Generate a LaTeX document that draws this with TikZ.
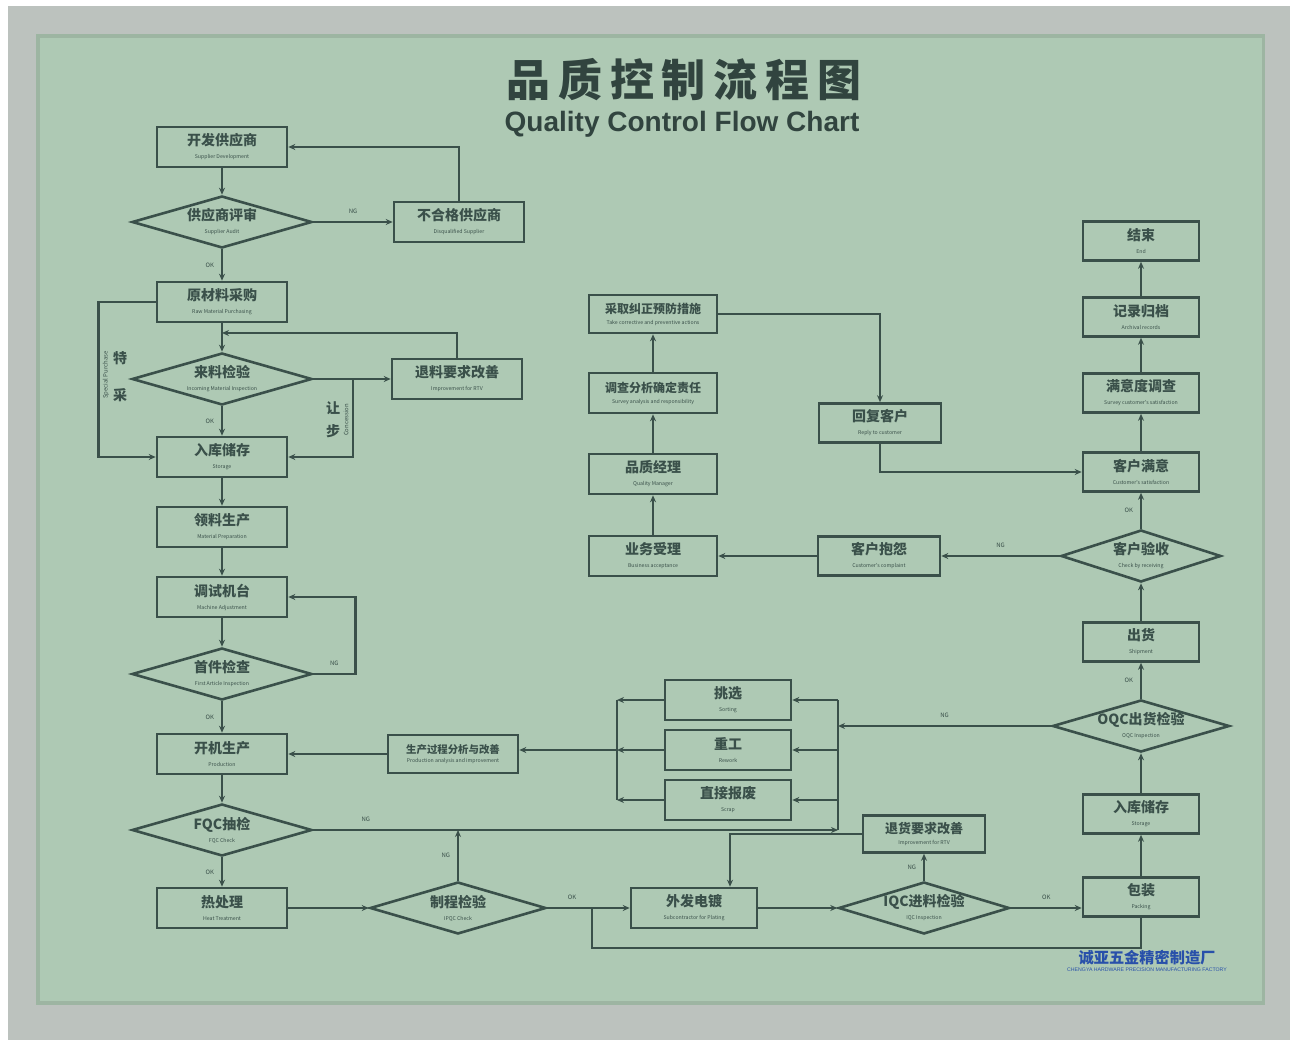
\documentclass[tikz,border=0pt]{standalone}
\usepackage{fontspec}
\setsansfont{Liberation Sans}
\newfontfamily\cjk{Noto Sans CJK SC}
\newfontfamily\cjktitle[LetterSpace=18]{Noto Sans CJK SC}
\usetikzlibrary{arrows.meta,shapes.geometric,calc}

\definecolor{board}{RGB}{174,201,180}
\definecolor{ink}{RGB}{58,80,74}
\definecolor{framec}{RGB}{188,194,190}
\definecolor{logoc}{RGB}{40,80,170}
\newcommand\en[1]{\\[-1.5pt]{\mdseries\fontsize{2.6}{3}\selectfont #1}}

\begin{document}
\begin{tikzpicture}[
  x=0.5pt, y=-0.5pt,
  font=\cjk\bfseries\fontsize{7}{8}\selectfont,
  >={Stealth[length=3.5pt,width=3pt]},
  block/.style={rectangle, draw=ink, line width=1.3pt, text=ink, fill=board,
                align=center, minimum width=65pt, minimum height=20pt, inner sep=1pt},
  nblock/.style={block, minimum width=58pt, minimum height=19.5pt},
  dec/.style={diamond, draw=ink, line width=1.3pt, text=ink, fill=board,
              align=center, aspect=3.4, minimum width=90pt, minimum height=26pt, inner sep=0pt},
  ndec/.style={dec, minimum width=80pt},
  lbl/.style={font=\cjk\fontsize{3}{3}\selectfont, text=ink},
  ar/.style={->, line width=1.3pt, draw=ink},
  ln/.style={line width=1.3pt, draw=ink},
]
\useasboundingbox (0,0) rectangle (1290,1042);

% ---------- board and frame ----------
\fill[white] (0,0) rectangle (1290,1042);
\fill[framec] (8,6) rectangle (1290,1040);
\fill[board!90!black] (36,34) rectangle (1265,1005);
\fill[board] (40,38) rectangle (1262,1001);

% ---------- title ----------
\node[text=ink!85!black, font=\cjktitle\bfseries\fontsize{22}{22}\selectfont] (title) at (684,80) {品质控制流程图};
\node[text=ink!85!black, font=\sffamily\bfseries\fontsize{14}{15}\selectfont] (subtitle) at (682,124) {Quality Control Flow Chart};

% ---------- left column: supplier and production ----------
\node[block] (dev) at (222,147) {开发供应商\en{Supplier Development}};
\node[dec] (audit) at (222,222) {供应商评审\en{Supplier Audit}};
\node[block] (disq) at (459,222) {不合格供应商\en{Disqualified Supplier}};
\node[block] (purch) at (222,302) {原材料采购\en{Raw Material Purchasing}};
\node[dec] (iqc) at (222,379) {来料检验\en{Incoming Material Inspection}};
\node[block] (impr) at (457,379) {退料要求改善\en{Improvement for RTV}};
\node[block] (stor) at (222,457) {入库储存\en{Storage}};
\node[block] (prep) at (222,527) {领料生产\en{Material Preparation}};
\node[block] (adj) at (222,597) {调试机台\en{Machine Adjustment}};
\node[dec] (fai) at (222,674) {首件检查\en{First Article Inspection}};
\node[block] (prod) at (222,754) {开机生产\en{Production}};
\node[block, minimum height=19pt, font=\cjk\bfseries\fontsize{5.2}{6}\selectfont] (anal) at (453,754) {生产过程分析与改善\en{Production analysis and improvement}};
\node[dec] (fqc) at (222,830) {FQC抽检\en{FQC Check}};
\node[block] (heat) at (222,908) {热处理\en{Heat Treatment}};

% ---------- bottom row ----------
\node[dec, minimum width=88pt] (ipqc) at (458,908) {制程检验\en{IPQC Check}};
\node[block, minimum width=63pt] (plate) at (694,908) {外发电镀\en{Subcontractor for Plating}};
\node[dec, minimum width=82pt] (iqc2) at (924,908) {IQC进料检验\en{IQC Inspection}};
\node[block, minimum width=61pt, minimum height=18.5pt, font=\cjk\bfseries\fontsize{6.5}{7}\selectfont] (ret) at (924,834) {退货要求改善\en{Improvement for RTV}};

% ---------- rework group ----------
\node[block, minimum width=63pt] (sort) at (728,700) {挑选\en{Sorting}};
\node[block, minimum width=63pt] (rework) at (728,750) {重工\en{Rework}};
\node[block, minimum width=63pt] (scrap) at (728,800) {直接报废\en{Scrap}};

% ---------- right column: shipping and customer ----------
\node[nblock] (pack) at (1141,897) {包装\en{Packing}};
\node[nblock] (stor2) at (1141,814) {入库储存\en{Storage}};
\node[ndec] (oqc) at (1141,726) {OQC出货检验\en{OQC Inspection}};
\node[nblock] (ship) at (1141,642) {出货\en{Shipment}};
\node[ndec] (recv) at (1141,556) {客户验收\en{Check by receiving}};
\node[nblock] (sat) at (1141,472) {客户满意\en{Customer's satisfaction}};
\node[nblock] (survey) at (1141,393) {满意度调查\en{Survey customer's satisfaction}};
\node[nblock] (rec) at (1141,317) {记录归档\en{Archival records}};
\node[nblock] (fin) at (1141,241) {结束\en{End}};

% ---------- complaint handling ----------
\node[nblock, minimum width=61pt] (compl) at (879,556) {客户抱怨\en{Customer's complaint}};
\node[block, minimum width=64pt] (accept) at (653,556) {业务受理\en{Business acceptance}};
\node[block, minimum width=64pt] (qm) at (653,474) {品质经理\en{Quality Manager}};
\node[block, minimum width=64pt, font=\cjk\bfseries\fontsize{6}{7}\selectfont] (survan) at (653,393) {调查分析确定责任\en{Survey analysis and responsibility}};
\node[block, minimum width=64pt, minimum height=19pt, font=\cjk\bfseries\fontsize{6}{7}\selectfont] (capa) at (653,314) {采取纠正预防措施\en{Take corrective and preventive actions}};
\node[nblock, minimum width=61pt] (reply) at (880,423) {回复客户\en{Reply to customer}};

% ---------- logo ----------
\node[text=logoc, font=\cjk\bfseries\fontsize{7.6}{8}\selectfont] (logo) at (1147,958) {诚亚五金精密制造厂};
\node[text=logoc, font=\sffamily\fontsize{2.6}{3}\selectfont] (logoen) at (1147,970) {CHENGYA HARDWARE PRECISION MANUFACTURING FACTORY};

% ---------- junctions ----------
\coordinate (j1) at (222,333);
\coordinate (jc) at (353,379);
\coordinate (rb) at (838,830);
\coordinate (lb) at (617,750);
\coordinate (jp) at (592,908);

% ===== supplier loop =====
\draw[ar] (dev) -- (audit);
\draw[ar] (audit) -- node[lbl, above] {NG} (disq);
\draw[ar] (disq.north) |- (dev.east);
\draw[ar] (audit) -- node[lbl, left] {OK} (purch);

% ===== incoming inspection =====
\draw[ar] (purch) -- (iqc);
\draw[ar] (iqc) -- (impr);
\draw[ar] (impr.north) |- (j1);
\draw[ar] (iqc) -- node[lbl, left] {OK} (stor);
\draw[ar] (purch.west) -- ++(-57,0) |- (stor.west);
\node[text=ink] (tc1) at (120,358) {特};
\node[text=ink] (tc2) at (120,395) {采};
\node[lbl, rotate=90] (tcen) at (106,375) {Special Purchase};
\draw[ar] (jc) |- (stor.east);
\node[text=ink] (rb1) at (333,408) {让};
\node[text=ink] (rb2) at (333,431) {步};
\node[lbl, rotate=90] (rben) at (346,420) {Concession};

% ===== production =====
\draw[ar] (stor) -- (prep);
\draw[ar] (prep) -- (adj);
\draw[ar] (adj) -- (fai);
\draw[ar] (fai.east) -- node[lbl, above, pos=0.5] {NG} ++(42,0) |- (adj.east);
\draw[ar] (fai) -- node[lbl, left] {OK} (prod);
\draw[ar] (anal) -- (prod);
\draw[ar] (prod) -- (fqc);
\draw[ar] (fqc.east) -- node[lbl, above, pos=0.1] {NG} (rb);
\draw[ar] (fqc) -- node[lbl, left] {OK} (heat);
\draw[ar] (heat) -- (ipqc);
\draw[ar] (ipqc.north) -- node[lbl, left] {NG} (ipqc.north |- rb);
\draw[ar] (ipqc) -- node[lbl, above, pos=0.3] {OK} (plate);
\draw[ar] (plate) -- (iqc2);
\draw[ar] (iqc2) -- node[lbl, left] {NG} (ret);
\draw[ar] (ret.west) -| ([xshift=18pt]plate.north);
\draw[ar] (iqc2.east) -- node[lbl, above] {OK} (iqc2.east -| pack.west);
\draw[ln] (pack.south) -- ++(0,30) -| (jp);

% ===== rework group =====
\draw[ln] (sort.east -| rb) -- (rb);
\draw[ar] (oqc.west) -- node[lbl, above, pos=0.5] {NG} (oqc.west -| rb);
\draw[ar] (sort.east -| rb) -- (sort.east);
\draw[ar] (rework.east -| rb) -- (rework.east);
\draw[ar] (scrap.east -| rb) -- (scrap.east);
\draw[ar] (sort.west) -- (sort.west -| lb);
\draw[ar] (rework.west) -- (lb);
\draw[ar] (scrap.west) -- (scrap.west -| lb);
\draw[ln] (sort.west -| lb) -- (scrap.west -| lb);
\draw[ar] (lb) -- (lb -| anal.east);

% ===== shipping and customer =====
\draw[ar] (pack) -- (stor2);
\draw[ar] (stor2) -- (oqc);
\draw[ar] (oqc) -- node[lbl, left] {OK} (ship);
\draw[ar] (ship) -- (recv);
\draw[ar] (recv) -- node[lbl, left] {OK} (sat);
\draw[ar] (sat) -- (survey);
\draw[ar] (survey) -- (rec);
\draw[ar] (rec) -- (fin);

% ===== complaint loop =====
\draw[ar] (recv) -- node[lbl, above] {NG} (compl);
\draw[ar] (compl) -- (accept);
\draw[ar] (accept) -- (qm);
\draw[ar] (qm) -- (survan);
\draw[ar] (survan) -- (capa);
\draw[ar] (capa.east) -| (reply.north);
\draw[ar] (reply.south) |- (sat.west);

\end{tikzpicture}
\end{document}
